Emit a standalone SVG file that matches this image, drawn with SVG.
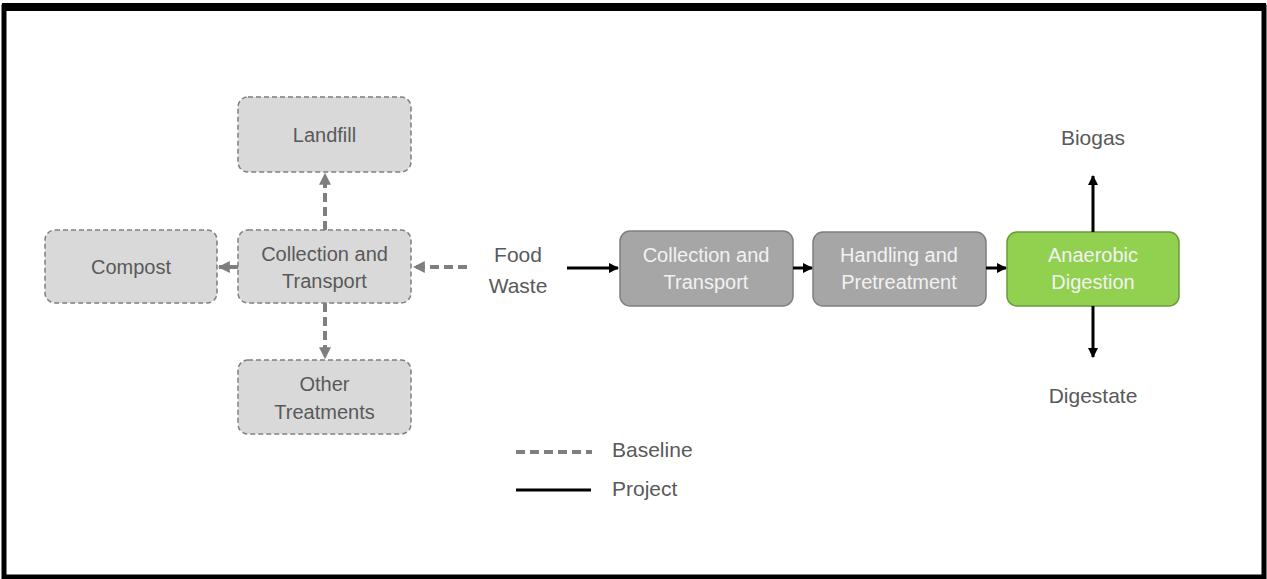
<svg xmlns="http://www.w3.org/2000/svg" width="1267" height="579" viewBox="0 0 1267 579">
<style>
text{font-family:"Liberation Sans",Arial,sans-serif;font-size:20px;text-anchor:middle}
.lbl{fill:#595959;font-size:21px}
.base rect{fill:#d9d9d9;stroke:#7f7f7f;stroke-width:1.5;stroke-dasharray:5 3}
.base text{fill:#595959}
.proj rect{fill:#a6a6a6;stroke:#7f7f7f;stroke-width:1.5}
.proj text{fill:#f2f2f2}
.green rect{fill:#92d050;stroke:#6a9a3a;stroke-width:1.5}
.green text{fill:#f2f2f2}
.dash{stroke:#7f7f7f;stroke-width:4;stroke-dasharray:9 5;fill:none}
.solid{stroke:#000;stroke-width:3;fill:none}
</style>
<defs>
<marker id="ag" viewBox="0 0 10 10" refX="9" refY="5" markerWidth="3" markerHeight="3" orient="auto" markerUnits="strokeWidth"><path d="M0,0L10,5L0,10z" fill="#7f7f7f"/></marker>
<marker id="ab" viewBox="0 0 10 10" refX="9" refY="5" markerWidth="3.5" markerHeight="3.5" orient="auto" markerUnits="strokeWidth"><path d="M0,0L10,5L0,10z" fill="#000"/></marker>
</defs>
<rect x="0" y="0" width="1267" height="579" fill="#fff"/>
<rect x="4" y="7" width="1260" height="570" fill="none" stroke="#000" stroke-width="5"/>
<rect x="2" y="3" width="1264" height="8" fill="#000"/>
<g id="landfill" class="base"><rect x="238" y="97" width="173" height="75" rx="10"/><text x="324.5" y="142">Landfill</text></g>
<g id="compost" class="base"><rect x="45" y="230" width="172" height="73" rx="10"/><text x="131" y="274">Compost</text></g>
<g id="collection-baseline" class="base"><rect x="238" y="230" width="173" height="73" rx="10"/><text x="324.5" y="261">Collection and</text><text x="324.5" y="288">Transport</text></g>
<g id="other" class="base"><rect x="238" y="360" width="173" height="74" rx="10"/><text x="324.5" y="391">Other</text><text x="324.5" y="419">Treatments</text></g>
<g id="foodwaste"><text class="lbl" x="518" y="262">Food</text><text class="lbl" x="518" y="293">Waste</text></g>
<g id="collection-project" class="proj"><rect x="620" y="231" width="173" height="75" rx="10"/><text x="706" y="262">Collection and</text><text x="706" y="289">Transport</text></g>
<g id="handling" class="proj"><rect x="813" y="232" width="173" height="74" rx="10"/><text x="899" y="262">Handling and</text><text x="899" y="289">Pretreatment</text></g>
<g id="ad" class="green"><rect x="1007" y="232" width="172" height="74" rx="10"/><text x="1093" y="262">Anaerobic</text><text x="1093" y="289">Digestion</text></g>
<g id="biogas"><text class="lbl" x="1093" y="145">Biogas</text></g>
<g id="digestate"><text class="lbl" x="1093" y="403">Digestate</text></g>
<g id="connectors">
<line class="dash" x1="467" y1="267" x2="414" y2="267" marker-end="url(#ag)"/>
<line class="dash" x1="325" y1="230" x2="325" y2="174" marker-end="url(#ag)"/>
<line class="dash" x1="238" y1="267" x2="219" y2="267" marker-end="url(#ag)"/>
<line class="dash" x1="325" y1="303" x2="325" y2="358" marker-end="url(#ag)"/>
<line class="solid" x1="567" y1="268" x2="618" y2="268" marker-end="url(#ab)"/>
<line class="solid" x1="793" y1="268" x2="812" y2="268" marker-end="url(#ab)"/>
<line class="solid" x1="986" y1="268" x2="1006" y2="268" marker-end="url(#ab)"/>
<line class="solid" x1="1093" y1="232" x2="1093" y2="176" marker-end="url(#ab)"/>
<line class="solid" x1="1093" y1="306" x2="1093" y2="357" marker-end="url(#ab)"/>
</g>
<g id="legend">
<line class="dash" x1="516" y1="452" x2="592" y2="452"/>
<text class="lbl" x="612" y="457" style="text-anchor:start">Baseline</text>
<line class="solid" x1="516" y1="490" x2="591" y2="490"/>
<text class="lbl" x="612" y="496" style="text-anchor:start">Project</text>
</g>
</svg>
